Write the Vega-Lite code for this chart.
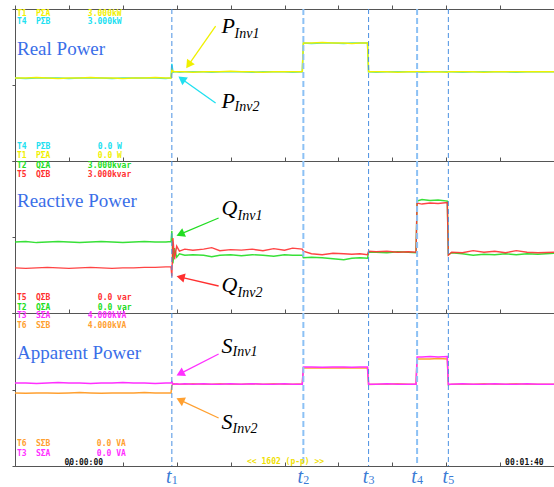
{
 "$schema": "https://vega.github.io/schema/vega-lite/v6.json",
 "autosize": {"type": "pad"},
 "padding": {"left": 11, "top": 4, "right": 0, "bottom": 0},
 "background": "white",
 "spacing": 0,
 "bounds": "flush",
 "config": {"view": {"stroke": null}, "axis": {"labels": false, "grid": false, "domainColor": "#555555", "tickColor": "#555555", "domainWidth": 1, "tickWidth": 1}},
 "datasets": {
  "series": [
   {"t":0,"T1":1.64,"T4":1.64,"T2":1.40,"T5":0.89,"T3":2.17,"T6":1.91},
   {"t":2,"T1":1.64,"T4":1.63,"T2":1.41,"T5":0.88,"T3":2.17,"T6":1.90},
   {"t":4,"T1":1.65,"T4":1.64,"T2":1.39,"T5":0.89,"T3":2.16,"T6":1.91},
   {"t":6,"T1":1.64,"T4":1.64,"T2":1.40,"T5":0.90,"T3":2.17,"T6":1.91},
   {"t":8,"T1":1.63,"T4":1.64,"T2":1.41,"T5":0.89,"T3":2.18,"T6":1.90},
   {"t":10,"T1":1.64,"T4":1.63,"T2":1.40,"T5":0.88,"T3":2.17,"T6":1.91},
   {"t":12,"T1":1.64,"T4":1.64,"T2":1.39,"T5":0.89,"T3":2.17,"T6":1.92},
   {"t":14,"T1":1.65,"T4":1.64,"T2":1.40,"T5":0.90,"T3":2.16,"T6":1.91},
   {"t":16,"T1":1.64,"T4":1.64,"T2":1.41,"T5":0.89,"T3":2.17,"T6":1.90},
   {"t":18,"T1":1.64,"T4":1.63,"T2":1.40,"T5":0.88,"T3":2.17,"T6":1.91},
   {"t":20,"T1":1.63,"T4":1.64,"T2":1.39,"T5":0.89,"T3":2.18,"T6":1.91},
   {"t":22,"T1":1.64,"T4":1.64,"T2":1.40,"T5":0.89,"T3":2.17,"T6":1.91},
   {"t":24,"T1":1.64,"T4":1.64,"T2":1.41,"T5":0.90,"T3":2.17,"T6":1.92},
   {"t":26,"T1":1.65,"T4":1.64,"T2":1.40,"T5":0.90,"T3":2.16,"T6":1.91},
   {"t":28,"T1":1.64,"T4":1.63,"T2":1.40,"T5":0.91,"T3":2.17,"T6":1.91},
   {"t":28.95,"T1":1.64,"T4":1.64,"T2":1.41,"T5":0.91,"T3":2.17,"T6":1.91},
   {"t":29.1,"T1":1.80,"T4":1.92,"T2":1.62,"T5":0.72,"T3":2.20,"T6":2.10},
   {"t":29.3,"T1":1.77,"T4":1.75,"T2":0.98,"T5":1.48,"T3":2.14,"T6":2.15},
   {"t":29.6,"T1":1.76,"T4":1.76,"T2":1.28,"T5":1.06,"T3":2.14,"T6":2.15},
   {"t":30.0,"T1":1.76,"T4":1.76,"T2":1.10,"T5":1.32,"T3":2.15,"T6":2.14},
   {"t":30.5,"T1":1.76,"T4":1.75,"T2":1.17,"T5":1.22,"T3":2.14,"T6":2.14},
   {"t":31.5,"T1":1.76,"T4":1.76,"T2":1.14,"T5":1.26,"T3":2.15,"T6":2.14},
   {"t":33,"T1":1.75,"T4":1.76,"T2":1.15,"T5":1.24,"T3":2.14,"T6":2.15},
   {"t":35,"T1":1.76,"T4":1.76,"T2":1.14,"T5":1.26,"T3":2.15,"T6":2.14},
   {"t":36.5,"T1":1.76,"T4":1.75,"T2":1.11,"T5":1.29,"T3":2.14,"T6":2.14},
   {"t":38,"T1":1.76,"T4":1.76,"T2":1.14,"T5":1.23,"T3":2.14,"T6":2.15},
   {"t":40,"T1":1.77,"T4":1.76,"T2":1.15,"T5":1.25,"T3":2.15,"T6":2.14},
   {"t":42,"T1":1.76,"T4":1.76,"T2":1.13,"T5":1.24,"T3":2.14,"T6":2.14},
   {"t":44,"T1":1.76,"T4":1.75,"T2":1.15,"T5":1.26,"T3":2.15,"T6":2.15},
   {"t":46,"T1":1.75,"T4":1.76,"T2":1.14,"T5":1.23,"T3":2.14,"T6":2.14},
   {"t":48,"T1":1.76,"T4":1.76,"T2":1.12,"T5":1.27,"T3":2.14,"T6":2.15},
   {"t":50,"T1":1.76,"T4":1.76,"T2":1.15,"T5":1.24,"T3":2.15,"T6":2.14},
   {"t":51.5,"T1":1.76,"T4":1.75,"T2":1.14,"T5":1.28,"T3":2.14,"T6":2.14},
   {"t":53.3,"T1":1.76,"T4":1.76,"T2":1.14,"T5":1.26,"T3":2.14,"T6":2.15},
   {"t":53.5,"T1":2.33,"T4":2.33,"T2":1.09,"T5":1.22,"T3":2.59,"T6":2.56},
   {"t":55,"T1":2.33,"T4":2.32,"T2":1.10,"T5":1.17,"T3":2.59,"T6":2.56},
   {"t":57,"T1":2.34,"T4":2.33,"T2":1.09,"T5":1.15,"T3":2.58,"T6":2.57},
   {"t":59,"T1":2.33,"T4":2.33,"T2":1.07,"T5":1.18,"T3":2.59,"T6":2.56},
   {"t":61,"T1":2.33,"T4":2.32,"T2":1.05,"T5":1.17,"T3":2.59,"T6":2.57},
   {"t":62.5,"T1":2.32,"T4":2.33,"T2":1.08,"T5":1.16,"T3":2.58,"T6":2.56},
   {"t":64,"T1":2.33,"T4":2.33,"T2":1.09,"T5":1.17,"T3":2.59,"T6":2.56},
   {"t":65.4,"T1":2.33,"T4":2.33,"T2":1.08,"T5":1.15,"T3":2.59,"T6":2.56},
   {"t":65.6,"T1":1.76,"T4":1.76,"T2":1.20,"T5":1.22,"T3":2.14,"T6":2.13},
   {"t":67,"T1":1.76,"T4":1.75,"T2":1.20,"T5":1.21,"T3":2.14,"T6":2.14},
   {"t":69,"T1":1.76,"T4":1.76,"T2":1.19,"T5":1.22,"T3":2.15,"T6":2.14},
   {"t":71,"T1":1.75,"T4":1.76,"T2":1.21,"T5":1.20,"T3":2.14,"T6":2.15},
   {"t":73,"T1":1.76,"T4":1.76,"T2":1.20,"T5":1.21,"T3":2.14,"T6":2.14},
   {"t":74.4,"T1":1.76,"T4":1.76,"T2":1.19,"T5":1.20,"T3":2.14,"T6":2.14},
   {"t":74.6,"T1":1.76,"T4":1.76,"T2":2.21,"T5":2.17,"T3":2.85,"T6":2.80},
   {"t":75.5,"T1":1.76,"T4":1.75,"T2":2.24,"T5":2.15,"T3":2.85,"T6":2.80},
   {"t":77,"T1":1.76,"T4":1.76,"T2":2.22,"T5":2.17,"T3":2.86,"T6":2.80},
   {"t":78.5,"T1":1.76,"T4":1.76,"T2":2.23,"T5":2.16,"T3":2.85,"T6":2.81},
   {"t":80.2,"T1":1.75,"T4":1.76,"T2":2.21,"T5":2.18,"T3":2.86,"T6":2.80},
   {"t":80.4,"T1":1.76,"T4":1.76,"T2":1.15,"T5":1.14,"T3":2.14,"T6":2.12},
   {"t":81,"T1":1.76,"T4":1.76,"T2":1.19,"T5":1.20,"T3":2.14,"T6":2.14},
   {"t":83,"T1":1.76,"T4":1.75,"T2":1.17,"T5":1.19,"T3":2.15,"T6":2.14},
   {"t":85,"T1":1.76,"T4":1.76,"T2":1.14,"T5":1.23,"T3":2.14,"T6":2.14},
   {"t":87,"T1":1.75,"T4":1.76,"T2":1.16,"T5":1.20,"T3":2.14,"T6":2.15},
   {"t":89,"T1":1.76,"T4":1.76,"T2":1.15,"T5":1.22,"T3":2.15,"T6":2.14},
   {"t":91,"T1":1.76,"T4":1.76,"T2":1.17,"T5":1.19,"T3":2.14,"T6":2.14},
   {"t":93,"T1":1.76,"T4":1.75,"T2":1.15,"T5":1.23,"T3":2.14,"T6":2.15},
   {"t":95,"T1":1.76,"T4":1.76,"T2":1.17,"T5":1.20,"T3":2.15,"T6":2.14},
   {"t":97,"T1":1.76,"T4":1.76,"T2":1.16,"T5":1.19,"T3":2.14,"T6":2.14},
   {"t":100,"T1":1.76,"T4":1.76,"T2":1.18,"T5":1.20,"T3":2.14,"T6":2.14}
  ],
  "events": [
   {"t":29.1,"k":"a","n":"1"},{"t":53.5,"k":"b","n":"2"},{"t":65.6,"k":"a","n":"3"},{"t":74.6,"k":"b","n":"4"},{"t":80.4,"k":"a","n":"5"}
  ],
  "arrows": [
   {"p":1,"trace":"T1","x":37.22,"y":2.664,"hx":32.2,"hy":1.897,"ang":215},
   {"p":1,"trace":"T4","x":37.22,"y":1.145,"hx":30.94,"hy":1.62,"ang":305},
   {"p":2,"trace":"T2","x":37.78,"y":1.875,"hx":30.67,"hy":1.557,"ang":247},
   {"p":2,"trace":"T5","x":37.78,"y":0.533,"hx":30.72,"hy":0.709,"ang":283},
   {"p":3,"trace":"T3","x":37.78,"y":2.928,"hx":30.65,"hy":2.413,"ang":243},
   {"p":3,"trace":"T6","x":37.78,"y":1.255,"hx":30.65,"hy":1.723,"ang":295}
  ],
  "labels": [
   {"p":1,"main":"P","sub":"Inv1","x":38.33,"v":2.526,"sx":40.74,"sv":2.428},
   {"p":1,"main":"P","sub":"Inv2","x":38.33,"v":1.046,"sx":40.74,"sv":0.987},
   {"p":2,"main":"Q","sub":"Inv1","x":38.33,"v":1.934,"sx":41.3,"sv":1.836},
   {"p":2,"main":"Q","sub":"Inv2","x":38.33,"v":0.414,"sx":41.3,"sv":0.316},
   {"p":3,"main":"S","sub":"Inv1","x":38.33,"v":2.954,"sx":40.37,"sv":2.876},
   {"p":3,"main":"S","sub":"Inv2","x":38.33,"v":0.967,"sx":40.37,"sv":0.863}
  ],
  "titles": [
   {"p":1,"text":"Real Power","v":2.092},
   {"p":2,"text":"Reactive Power","v":2.092},
   {"p":3,"text":"Apparent Power","v":2.797}
  ],
  "headers": [
   {"p":1,"trace":"T1","ch":"PΣA","val":"3.000kW","v":2.852,"vx":13.52},
   {"p":1,"trace":"T4","ch":"PΣB","val":"3.000kW","v":2.704,"vx":13.52},
   {"p":1,"trace":"T4","ch":"PΣB","val":"0.0 W","v":0.237,"vx":15.37},
   {"p":1,"trace":"T1","ch":"PΣA","val":"0.0 W","v":0.059,"vx":15.37},
   {"p":2,"trace":"T2","ch":"QΣA","val":"3.000kvar","v":2.862,"vx":13.52},
   {"p":2,"trace":"T5","ch":"QΣB","val":"3.000kvar","v":2.684,"vx":13.52},
   {"p":2,"trace":"T5","ch":"QΣB","val":"0.0 var","v":0.257,"vx":15.37},
   {"p":2,"trace":"T2","ch":"QΣA","val":"0.0 var","v":0.059,"vx":15.37},
   {"p":3,"trace":"T3","ch":"SΣA","val":"4.000kVA","v":3.869,"vx":13.52},
   {"p":3,"trace":"T6","ch":"SΣB","val":"4.000kVA","v":3.608,"vx":13.52},
   {"p":3,"trace":"T6","ch":"SΣB","val":"0.0 VA","v":0.523,"vx":15.19},
   {"p":3,"trace":"T3","ch":"SΣA","val":"0.0 VA","v":0.261,"vx":15.19}
  ],
  "footer": [
   {"text":"00:00:00","t":9.19,"v":0.03},
   {"text":"00:01:40","t":90.93,"v":0.03}
  ],
  "span": [
   {"text":"<< 1602 (p-p) >>","t":50.2,"v":0.06}
  ]
 },
 "vconcat": [
  {
   "width": 539, "height": 152,
   "layer": [
    {"data": {"name": "series"}, "transform": [{"fold": ["T4","T1"], "as": ["trace","value"]}],
     "mark": {"type": "line", "strokeWidth": 1.5},
     "encoding": {
      "x": {"field": "t", "type": "quantitative", "title": null, "scale": {"domain": [0,100], "nice": false, "zero": false}, "axis": {"orient": "top", "values": [0,10,20,30,40,50,60,70,80,90,100], "tickSize": 4, "labels": false}},
      "y": {"field": "value", "type": "quantitative", "title": null, "scale": {"domain": [0,3], "nice": false}, "axis": {"orient": "left", "values": [0,0.375,0.75,1.125,1.5,1.875,2.25,2.625,3], "tickSize": 3, "labels": false}},
      "color": {"field": "trace", "type": "nominal", "legend": null, "scale": {"domain": ["T1","T2","T3","T4","T5","T6"], "range": ["#f0f000","#22dd22","#ff30ff","#20e0f0","#ff3030","#ffa030"]}}
     }},
    {"data": {"name": "events"}, "transform": [{"filter": "datum.k == 'a'"}], "mark": {"type": "rule", "color": "#4a90e2", "strokeWidth": 1, "strokeDash": [5,3]},
     "encoding": {"x": {"field": "t", "type": "quantitative", "title": null}}},
    {"data": {"name": "events"}, "transform": [{"filter": "datum.k == 'b'"}], "mark": {"type": "rule", "color": "#8cc1f5", "strokeWidth": 2, "strokeDash": [6,3]},
     "encoding": {"x": {"field": "t", "type": "quantitative", "title": null}}},
    {"data": {"name": "arrows"}, "transform": [{"filter": "datum.p == 1"}], "mark": {"type": "rule", "strokeWidth": 1.3},
     "encoding": {"x": {"field": "x", "type": "quantitative", "title": null}, "y": {"field": "y", "type": "quantitative", "title": null}, "x2": {"field": "hx"}, "y2": {"field": "hy"}, "color": {"field": "trace", "type": "nominal", "legend": null}}},
    {"data": {"name": "arrows"}, "transform": [{"filter": "datum.p == 1"}], "mark": {"type": "point", "shape": "triangle-up", "filled": true, "size": 90, "opacity": 1},
     "encoding": {"x": {"field": "hx", "type": "quantitative", "title": null}, "y": {"field": "hy", "type": "quantitative", "title": null}, "angle": {"field": "ang", "type": "quantitative", "scale": null}, "color": {"field": "trace", "type": "nominal", "legend": null}}},
    {"data": {"name": "titles"}, "transform": [{"filter": "datum.p == 1"}], "mark": {"type": "text", "align": "left", "baseline": "alphabetic", "font": "Liberation Serif", "fontSize": 19, "color": "#3a6ee8"},
     "encoding": {"x": {"datum": 0.37}, "y": {"field": "v", "type": "quantitative", "title": null}, "text": {"field": "text"}}},
    {"data": {"name": "labels"}, "transform": [{"filter": "datum.p == 1"}], "mark": {"type": "text", "align": "left", "baseline": "alphabetic", "font": "Liberation Serif", "fontStyle": "italic", "fontSize": 22, "color": "black"},
     "encoding": {"x": {"field": "x", "type": "quantitative", "title": null}, "y": {"field": "v", "type": "quantitative", "title": null}, "text": {"field": "main"}}},
    {"data": {"name": "labels"}, "transform": [{"filter": "datum.p == 1"}], "mark": {"type": "text", "align": "left", "baseline": "alphabetic", "font": "Liberation Serif", "fontStyle": "italic", "fontSize": 14, "color": "black"},
     "encoding": {"x": {"field": "sx", "type": "quantitative", "title": null}, "y": {"field": "sv", "type": "quantitative", "title": null}, "text": {"field": "sub"}}},
    {"data": {"name": "headers"}, "transform": [{"filter": "datum.p == 1"}], "mark": {"type": "text", "align": "left", "baseline": "alphabetic", "font": "DejaVu Sans Mono", "fontWeight": "bold", "fontSize": 8},
     "encoding": {"x": {"datum": 0.37}, "y": {"field": "v", "type": "quantitative", "title": null}, "text": {"field": "trace"}, "color": {"field": "trace", "type": "nominal", "legend": null}}},
    {"data": {"name": "headers"}, "transform": [{"filter": "datum.p == 1"}], "mark": {"type": "text", "align": "left", "baseline": "alphabetic", "font": "DejaVu Sans Mono", "fontWeight": "bold", "fontSize": 8},
     "encoding": {"x": {"datum": 3.89}, "y": {"field": "v", "type": "quantitative", "title": null}, "text": {"field": "ch"}, "color": {"field": "trace", "type": "nominal", "legend": null}}},
    {"data": {"name": "headers"}, "transform": [{"filter": "datum.p == 1"}], "mark": {"type": "text", "align": "left", "baseline": "alphabetic", "font": "DejaVu Sans Mono", "fontWeight": "bold", "fontSize": 8},
     "encoding": {"x": {"field": "vx", "type": "quantitative", "title": null}, "y": {"field": "v", "type": "quantitative", "title": null}, "text": {"field": "val"}, "color": {"field": "trace", "type": "nominal", "legend": null}}}
   ]
  },
  {
   "width": 539, "height": 152,
   "layer": [
    {"data": {"name": "series"}, "transform": [{"fold": ["T2","T5"], "as": ["trace","value"]}],
     "mark": {"type": "line", "strokeWidth": 1.4, "opacity": 0.9},
     "encoding": {
      "x": {"field": "t", "type": "quantitative", "title": null, "scale": {"domain": [0,100], "nice": false, "zero": false}, "axis": {"orient": "top", "values": [0,10,20,30,40,50,60,70,80,90,100], "tickSize": 4, "labels": false}},
      "y": {"field": "value", "type": "quantitative", "title": null, "scale": {"domain": [0,3], "nice": false}, "axis": {"orient": "left", "values": [0,0.375,0.75,1.125,1.5,1.875,2.25,2.625,3], "tickSize": 3, "labels": false}},
      "color": {"field": "trace", "type": "nominal", "legend": null, "scale": {"domain": ["T1","T2","T3","T4","T5","T6"], "range": ["#f0f000","#22dd22","#ff30ff","#20e0f0","#ff3030","#ffa030"]}}
     }},
    {"data": {"name": "events"}, "transform": [{"filter": "datum.k == 'a'"}], "mark": {"type": "rule", "color": "#4a90e2", "strokeWidth": 1, "strokeDash": [5,3]},
     "encoding": {"x": {"field": "t", "type": "quantitative", "title": null}}},
    {"data": {"name": "events"}, "transform": [{"filter": "datum.k == 'b'"}], "mark": {"type": "rule", "color": "#8cc1f5", "strokeWidth": 2, "strokeDash": [6,3]},
     "encoding": {"x": {"field": "t", "type": "quantitative", "title": null}}},
    {"data": {"name": "arrows"}, "transform": [{"filter": "datum.p == 2"}], "mark": {"type": "rule", "strokeWidth": 1.3},
     "encoding": {"x": {"field": "x", "type": "quantitative", "title": null}, "y": {"field": "y", "type": "quantitative", "title": null}, "x2": {"field": "hx"}, "y2": {"field": "hy"}, "color": {"field": "trace", "type": "nominal", "legend": null}}},
    {"data": {"name": "arrows"}, "transform": [{"filter": "datum.p == 2"}], "mark": {"type": "point", "shape": "triangle-up", "filled": true, "size": 90, "opacity": 1},
     "encoding": {"x": {"field": "hx", "type": "quantitative", "title": null}, "y": {"field": "hy", "type": "quantitative", "title": null}, "angle": {"field": "ang", "type": "quantitative", "scale": null}, "color": {"field": "trace", "type": "nominal", "legend": null}}},
    {"data": {"name": "titles"}, "transform": [{"filter": "datum.p == 2"}], "mark": {"type": "text", "align": "left", "baseline": "alphabetic", "font": "Liberation Serif", "fontSize": 19, "color": "#3a6ee8"},
     "encoding": {"x": {"datum": 0.37}, "y": {"field": "v", "type": "quantitative", "title": null}, "text": {"field": "text"}}},
    {"data": {"name": "labels"}, "transform": [{"filter": "datum.p == 2"}], "mark": {"type": "text", "align": "left", "baseline": "alphabetic", "font": "Liberation Serif", "fontStyle": "italic", "fontSize": 22, "color": "black"},
     "encoding": {"x": {"field": "x", "type": "quantitative", "title": null}, "y": {"field": "v", "type": "quantitative", "title": null}, "text": {"field": "main"}}},
    {"data": {"name": "labels"}, "transform": [{"filter": "datum.p == 2"}], "mark": {"type": "text", "align": "left", "baseline": "alphabetic", "font": "Liberation Serif", "fontStyle": "italic", "fontSize": 14, "color": "black"},
     "encoding": {"x": {"field": "sx", "type": "quantitative", "title": null}, "y": {"field": "sv", "type": "quantitative", "title": null}, "text": {"field": "sub"}}},
    {"data": {"name": "headers"}, "transform": [{"filter": "datum.p == 2"}], "mark": {"type": "text", "align": "left", "baseline": "alphabetic", "font": "DejaVu Sans Mono", "fontWeight": "bold", "fontSize": 8},
     "encoding": {"x": {"datum": 0.37}, "y": {"field": "v", "type": "quantitative", "title": null}, "text": {"field": "trace"}, "color": {"field": "trace", "type": "nominal", "legend": null}}},
    {"data": {"name": "headers"}, "transform": [{"filter": "datum.p == 2"}], "mark": {"type": "text", "align": "left", "baseline": "alphabetic", "font": "DejaVu Sans Mono", "fontWeight": "bold", "fontSize": 8},
     "encoding": {"x": {"datum": 3.89}, "y": {"field": "v", "type": "quantitative", "title": null}, "text": {"field": "ch"}, "color": {"field": "trace", "type": "nominal", "legend": null}}},
    {"data": {"name": "headers"}, "transform": [{"filter": "datum.p == 2"}], "mark": {"type": "text", "align": "left", "baseline": "alphabetic", "font": "DejaVu Sans Mono", "fontWeight": "bold", "fontSize": 8},
     "encoding": {"x": {"field": "vx", "type": "quantitative", "title": null}, "y": {"field": "v", "type": "quantitative", "title": null}, "text": {"field": "val"}, "color": {"field": "trace", "type": "nominal", "legend": null}}}
   ]
  },
  {
   "width": 539, "height": 153,
   "layer": [
    {"data": {"name": "series"}, "transform": [{"fold": ["T6","T3"], "as": ["trace","value"]}],
     "mark": {"type": "line", "strokeWidth": 1.5},
     "encoding": {
      "x": {"field": "t", "type": "quantitative", "title": null, "scale": {"domain": [0,100], "nice": false, "zero": false}, "axis": {"orient": "top", "values": [0,10,20,30,40,50,60,70,80,90,100], "tickSize": 4, "labels": false}},
      "y": {"field": "value", "type": "quantitative", "title": null, "scale": {"domain": [0,4], "nice": false}, "axis": {"orient": "left", "values": [0,0.5,1,1.5,2,2.5,3,3.5,4], "tickSize": 3, "labels": false}},
      "color": {"field": "trace", "type": "nominal", "legend": null, "scale": {"domain": ["T1","T2","T3","T4","T5","T6"], "range": ["#f0f000","#22dd22","#ff30ff","#20e0f0","#ff3030","#ffa030"]}}
     }},
    {"data": {"name": "events"}, "transform": [{"filter": "datum.k == 'a'"}], "mark": {"type": "rule", "color": "#4a90e2", "strokeWidth": 1, "strokeDash": [5,3]},
     "encoding": {"x": {"field": "t", "type": "quantitative", "title": null}}},
    {"data": {"name": "events"}, "transform": [{"filter": "datum.k == 'b'"}], "mark": {"type": "rule", "color": "#8cc1f5", "strokeWidth": 2, "strokeDash": [6,3]},
     "encoding": {"x": {"field": "t", "type": "quantitative", "title": null}}},
    {"data": {"name": "arrows"}, "transform": [{"filter": "datum.p == 3"}], "mark": {"type": "rule", "strokeWidth": 1.3},
     "encoding": {"x": {"field": "x", "type": "quantitative", "title": null}, "y": {"field": "y", "type": "quantitative", "title": null}, "x2": {"field": "hx"}, "y2": {"field": "hy"}, "color": {"field": "trace", "type": "nominal", "legend": null}}},
    {"data": {"name": "arrows"}, "transform": [{"filter": "datum.p == 3"}], "mark": {"type": "point", "shape": "triangle-up", "filled": true, "size": 90, "opacity": 1},
     "encoding": {"x": {"field": "hx", "type": "quantitative", "title": null}, "y": {"field": "hy", "type": "quantitative", "title": null}, "angle": {"field": "ang", "type": "quantitative", "scale": null}, "color": {"field": "trace", "type": "nominal", "legend": null}}},
    {"data": {"name": "titles"}, "transform": [{"filter": "datum.p == 3"}], "mark": {"type": "text", "align": "left", "baseline": "alphabetic", "font": "Liberation Serif", "fontSize": 19, "color": "#3a6ee8"},
     "encoding": {"x": {"datum": 0.37}, "y": {"field": "v", "type": "quantitative", "title": null}, "text": {"field": "text"}}},
    {"data": {"name": "labels"}, "transform": [{"filter": "datum.p == 3"}], "mark": {"type": "text", "align": "left", "baseline": "alphabetic", "font": "Liberation Serif", "fontStyle": "italic", "fontSize": 22, "color": "black"},
     "encoding": {"x": {"field": "x", "type": "quantitative", "title": null}, "y": {"field": "v", "type": "quantitative", "title": null}, "text": {"field": "main"}}},
    {"data": {"name": "labels"}, "transform": [{"filter": "datum.p == 3"}], "mark": {"type": "text", "align": "left", "baseline": "alphabetic", "font": "Liberation Serif", "fontStyle": "italic", "fontSize": 14, "color": "black"},
     "encoding": {"x": {"field": "sx", "type": "quantitative", "title": null}, "y": {"field": "sv", "type": "quantitative", "title": null}, "text": {"field": "sub"}}},
    {"data": {"name": "headers"}, "transform": [{"filter": "datum.p == 3"}], "mark": {"type": "text", "align": "left", "baseline": "alphabetic", "font": "DejaVu Sans Mono", "fontWeight": "bold", "fontSize": 8},
     "encoding": {"x": {"datum": 0.37}, "y": {"field": "v", "type": "quantitative", "title": null}, "text": {"field": "trace"}, "color": {"field": "trace", "type": "nominal", "legend": null}}},
    {"data": {"name": "headers"}, "transform": [{"filter": "datum.p == 3"}], "mark": {"type": "text", "align": "left", "baseline": "alphabetic", "font": "DejaVu Sans Mono", "fontWeight": "bold", "fontSize": 8},
     "encoding": {"x": {"datum": 3.89}, "y": {"field": "v", "type": "quantitative", "title": null}, "text": {"field": "ch"}, "color": {"field": "trace", "type": "nominal", "legend": null}}},
    {"data": {"name": "headers"}, "transform": [{"filter": "datum.p == 3"}], "mark": {"type": "text", "align": "left", "baseline": "alphabetic", "font": "DejaVu Sans Mono", "fontWeight": "bold", "fontSize": 8},
     "encoding": {"x": {"field": "vx", "type": "quantitative", "title": null}, "y": {"field": "v", "type": "quantitative", "title": null}, "text": {"field": "val"}, "color": {"field": "trace", "type": "nominal", "legend": null}}},
    {"data": {"name": "footer"}, "mark": {"type": "text", "align": "left", "baseline": "alphabetic", "font": "DejaVu Sans Mono", "fontWeight": "bold", "fontSize": 8, "color": "#111111"},
     "encoding": {"x": {"field": "t", "type": "quantitative", "title": null}, "y": {"field": "v", "type": "quantitative", "title": null}, "text": {"field": "text"}}},
    {"data": {"name": "span"}, "mark": {"type": "text", "align": "center", "baseline": "alphabetic", "font": "DejaVu Sans Mono", "fontWeight": "bold", "fontSize": 8, "color": "#f0e000"},
     "encoding": {"x": {"field": "t", "type": "quantitative", "title": null}, "y": {"field": "v", "type": "quantitative", "title": null}, "text": {"field": "text"}}}
   ]
  },
  {
   "width": 539, "height": 18,
   "layer": [
    {"data": {"name": "events"}, "mark": {"type": "text", "align": "center", "baseline": "middle", "font": "Liberation Serif", "fontStyle": "italic", "fontSize": 20, "color": "#3a7bd5", "dx": -3, "dy": 2},
     "encoding": {"x": {"field": "t", "type": "quantitative", "title": null, "scale": {"domain": [0,100], "nice": false, "zero": false}, "axis": {"orient": "top", "values": [0,10,20,30,40,50,60,70,80,90,100], "tickSize": 4, "labels": false}}, "text": {"value": "t"}}},
    {"data": {"name": "events"}, "mark": {"type": "text", "align": "left", "baseline": "middle", "font": "Liberation Serif", "fontSize": 12, "color": "#3a7bd5", "dx": 0, "dy": 5},
     "encoding": {"x": {"field": "t", "type": "quantitative", "title": null}, "text": {"field": "n"}}}
   ]
  }
 ]
}
